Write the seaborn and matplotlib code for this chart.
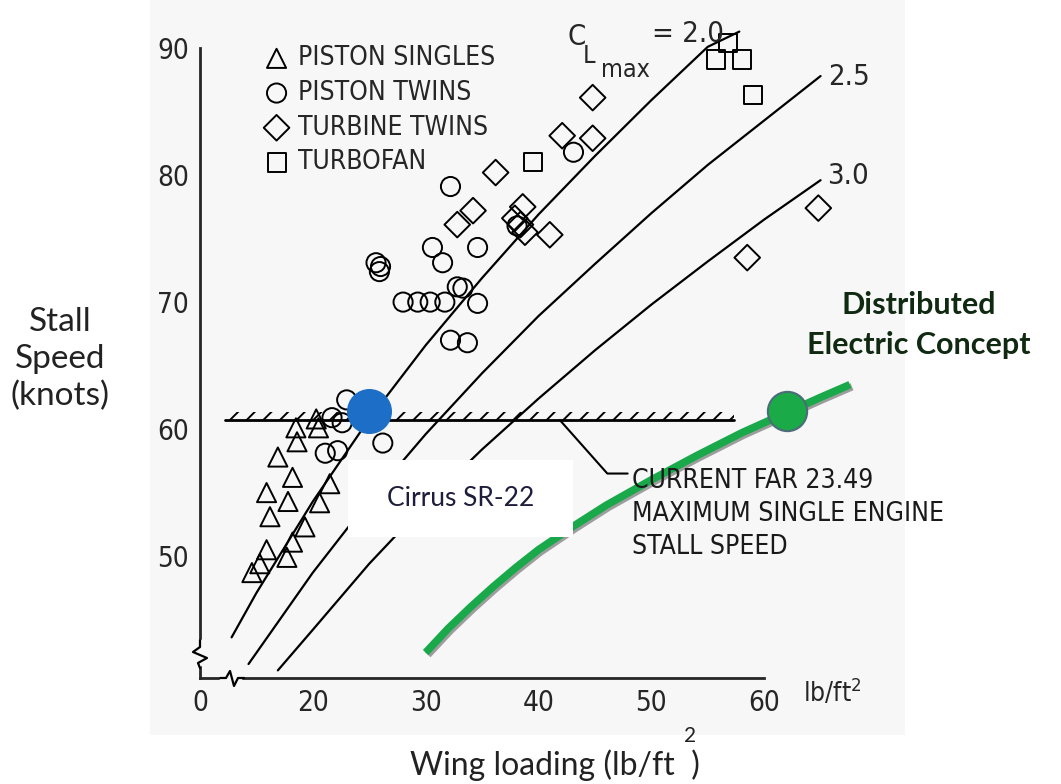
import matplotlib
matplotlib.use("Agg")
import matplotlib.pyplot as plt
import matplotlib.patheffects as pe
from matplotlib import font_manager as fm
from matplotlib.patches import Rectangle
import seaborn as sns

# data (wing loading lb/ft^2, stall speed knots)
singles_x = [20.3, 18.5, 20.5, 18.6, 16.9, 18.2, 15.9, 17.8, 16.2, 21.5, 20.6, 19.3, 18.2, 15.9, 17.7, 15.3, 14.6]
singles_y = [60.8, 60.1, 60.1, 59.0, 57.8, 56.2, 55.0, 54.3, 53.1, 55.7, 54.2, 52.3, 51.1, 50.5, 49.9, 49.4, 48.7]

twins_x = [25.6, 26.0, 25.9, 32.2, 30.6, 31.5, 34.6, 28.0, 29.3, 30.4, 31.7, 34.6, 32.8, 33.3,
           32.2, 33.7, 43.1, 38.1, 23.0, 21.7, 22.6, 26.2, 21.1, 22.2]
twins_y = [73.1, 72.8, 72.4, 79.1, 74.3, 73.1, 74.3, 70.0, 70.0, 70.0, 70.0, 69.9, 71.2, 71.1,
           67.0, 66.8, 81.8, 76.0, 62.3, 60.9, 60.5, 58.9, 58.1, 58.3]

turbine_x = [44.8, 42.1, 44.8, 36.2, 34.2, 32.8, 38.6, 37.9, 38.4, 38.8, 41.0, 64.8, 58.5]
turbine_y = [86.1, 83.1, 82.9, 80.2, 77.2, 76.1, 77.5, 76.6, 76.1, 75.5, 75.3, 77.4, 73.5]

fan_x = [56.8, 55.7, 58.0, 59.0, 39.5]
fan_y = [90.4, 89.1, 89.1, 86.3, 81.0]

# C_Lmax lines
cl20_x = [12.8, 15, 20, 25, 30, 35, 40, 45, 50, 55, 57.8]
cl20_y = [43.6, 47.1, 54.3, 60.8, 66.6, 71.9, 76.9, 81.5, 85.9, 90.1, 91.3]
cl25_x = [14.3, 20, 25, 30, 35, 40, 45, 50, 55, 60, 65]
cl25_y = [41.5, 48.7, 54.4, 59.6, 64.4, 68.9, 73.0, 77.0, 80.8, 84.3, 87.8]
cl30_x = [16.9, 20, 25, 30, 35, 40, 45, 50, 55, 60, 65]
cl30_y = [41.0, 44.2, 49.4, 54.1, 58.4, 62.4, 66.2, 69.8, 73.2, 76.5, 79.6]

# FAR 23.49 stall speed limit
far_x = [12.2, 57.3]
far_y = [60.7, 60.7]

# distributed electric concept curve
dep_x = [30.0, 32.0, 34.0, 36.0, 38.0, 40.0, 43.0, 46.0, 50.0, 54.0, 58.0, 62.0, 65.0, 67.6]
dep_y = [42.4, 44.3, 46.0, 47.6, 49.1, 50.5, 52.3, 54.0, 56.0, 57.9, 59.7, 61.3, 62.5, 63.5]

cirrus = (25.0, 61.4)
dep_point = (62.0, 61.4)

x_ticks = [10, 20, 30, 40, 50, 60]
x_labels = ["0", "20", "30", "40", "50", "60"]
y_ticks = [50, 60, 70, 80, 90]

# pick a narrow face for the scanned lettering
names = {f.name for f in fm.fontManager.ttflist}
dv_cond = any(f.name == "DejaVu Sans" and "condensed" in str(f.stretch) for f in fm.fontManager.ttflist)
if "Liberation Sans Narrow" in names:
    NARROW, STRETCH = ["Liberation Sans Narrow", "DejaVu Sans"], "normal"
elif dv_cond:
    NARROW, STRETCH = ["DejaVu Sans"], "condensed"
else:
    NARROW, STRETCH = ["Roboto", "DejaVu Sans"], "normal"
SANS = ["Lato", "DejaVu Sans"]
nf = dict(family=NARROW, stretch=STRETCH)
sf = dict(family=SANS, stretch="normal")

W, H = 1061, 784
sns.set_style("white")
plt.rcParams["font.family"] = NARROW
plt.rcParams["font.stretch"] = STRETCH
plt.rcParams["hatch.linewidth"] = 1.4

fig = plt.figure(figsize=(W / 100, H / 100), dpi=100)
ax = fig.add_axes([200 / W, 1 - 678 / H, 677 / W, 668 / H])
ax.set_facecolor("none")

# scanned paper tone
fig.patches.append(Rectangle((150 / W, 1 - 735 / H), 755 / W, 735 / H, transform=fig.transFigure,
                             facecolor="#f7f7f7", edgecolor="none", zorder=-10))

ax.set_xlim(10, 70)
ax.set_ylim(40.4, 93.0)

for lx, ly in [(cl20_x, cl20_y), (cl25_x, cl25_y), (cl30_x, cl30_y)]:
    sns.lineplot(x=lx, y=ly, ax=ax, color="black", lw=1.6, sort=False, estimator=None, zorder=2)

# FAR line with hatching
sns.lineplot(x=far_x, y=far_y, ax=ax, color="black", lw=2, estimator=None, zorder=2)
ax.fill_between(far_x, far_y[0], far_y[0] + 0.65, facecolor="none", edgecolor="black",
                hatch="//", linewidth=0, zorder=2)
ax.plot([41.9, 46.1, 47.9], [60.7, 56.5, 56.5], color="black", lw=1.5, zorder=2)

mk = dict(facecolor="none", edgecolor="black", linewidth=1.4, zorder=3, ax=ax)
sns.scatterplot(x=singles_x, y=singles_y, marker="^", s=190, label="PISTON SINGLES", **mk)
sns.scatterplot(x=twins_x, y=twins_y, marker="o", s=190, label="PISTON TWINS", **mk)
sns.scatterplot(x=turbine_x, y=turbine_y, marker="D", s=170, label="TURBINE TWINS", **mk)
sns.scatterplot(x=fan_x, y=fan_y, marker="s", s=170, label="TURBOFAN", **mk)

# green concept curve
ax.plot(dep_x, dep_y, color="#19a84a", lw=5.5, solid_capstyle="butt", zorder=4,
        path_effects=[pe.SimpleLineShadow(offset=(1.5, -1.5), shadow_color="#777777", alpha=0.7),
                      pe.Normal()])

# Cirrus label box
ax.add_patch(Rectangle((23.1, 51.5), 20.0, 6.1, facecolor="white", edgecolor="none", zorder=5))
ax.text(33.1, 54.5, "Cirrus SR-22", ha="center", va="center", fontsize=19,
        color="#1e1e3c", zorder=6, **sf)

sns.scatterplot(x=[cirrus[0]], y=[cirrus[1]], s=900, color="#1c6ec6", edgecolor="#1c6ec6",
                ax=ax, zorder=7, legend=False)
sns.scatterplot(x=[dep_point[0]], y=[dep_point[1]], s=800, color="#1aab48", edgecolor="#4d6b78",
                linewidth=1.5, ax=ax, zorder=7, legend=False)

# annotations in the scanned style
ax.text(48.3, 56.9, "CURRENT FAR 23.49\nMAXIMUM SINGLE ENGINE\nSTALL SPEED", fontsize=19,
        va="top", ha="left", linespacing=1.33, zorder=6, color="#1a1a1a", **nf)
ax.text(43.4, 90.9, "C", fontsize=21, ha="center", va="center", **nf)
ax.text(44.5, 89.4, "L", fontsize=18, ha="center", va="center", **nf)
ax.text(47.7, 88.3, "max", fontsize=18, ha="center", va="center", **nf)
ax.text(50.1, 91.1, "= 2.0", fontsize=21, ha="left", va="center", **nf)
ax.text(65.7, 87.7, "2.5", fontsize=21, ha="left", va="center", **nf)
ax.text(65.6, 79.9, "3.0", fontsize=21, ha="left", va="center", **nf)
ax.text(63.4, 39.2, "lb/ft$^2$", fontsize=19, ha="left", va="center", **nf)

ax.legend(loc="upper left", bbox_to_anchor=(0.078, 0.963), frameon=False,
          prop=dict(size=19, **nf), handletextpad=0.3, labelspacing=0.33, borderaxespad=0,
          handlelength=1.0, markerscale=1.0)

# axes styling
sns.despine(ax=ax)
ax.spines["left"].set_bounds(40.4, 90)
ax.spines["bottom"].set_bounds(10, 60)
for sp in ("left", "bottom"):
    ax.spines[sp].set_linewidth(2)
ax.set_xticks(x_ticks, x_labels)
ax.set_yticks(y_ticks)
ax.tick_params(direction="in", length=12, width=1.6, pad=8, labelsize=20)

# axis break marks
def fx(px):
    return (px - 200) / 677

def fy(py):
    return (678 - py) / 668

ax.plot([fx(200), fx(200)], [fy(642), fy(664)], color="#f7f7f7", lw=4, transform=ax.transAxes, clip_on=False, zorder=8)
ax.plot([fx(200), fx(200), fx(193), fx(207), fx(198), fx(200)],
        [fy(640), fy(647), fy(652), fy(658), fy(663), fy(668)],
        color="black", lw=1.6, transform=ax.transAxes, clip_on=False, zorder=9)
ax.plot([fx(222), fx(240)], [fy(678), fy(678)], color="#f7f7f7", lw=4, transform=ax.transAxes, clip_on=False, zorder=8)
ax.plot([fx(220), fx(226), fx(230), fx(234), fx(238), fx(244)],
        [fy(678), fy(678), fy(671), fy(686), fy(678), fy(678)],
        color="black", lw=1.6, transform=ax.transAxes, clip_on=False, zorder=9)
ax.set_xlabel("")
ax.set_ylabel("")

# outer labels
fig.text(60 / W, 1 - 359 / H, "Stall\nSpeed\n(knots)", ha="center", va="center", fontsize=24,
         color="#222222", linespacing=1.3, **sf)
fig.text(919 / W, 1 - 325 / H, "Distributed\nElectric Concept", ha="center", va="center", fontsize=22,
         weight="bold", color="#102a12", linespacing=1.5, **sf)
fig.text(555 / W, 1 - 765 / H, "Wing loading (lb/ft  )", ha="center", va="center", fontsize=23,
         color="#222222", **sf)
fig.text(690 / W, 1 - 736 / H, "2", ha="center", va="center", fontsize=15, color="#222222", **sf)

fig.savefig("out.png", dpi=100)
